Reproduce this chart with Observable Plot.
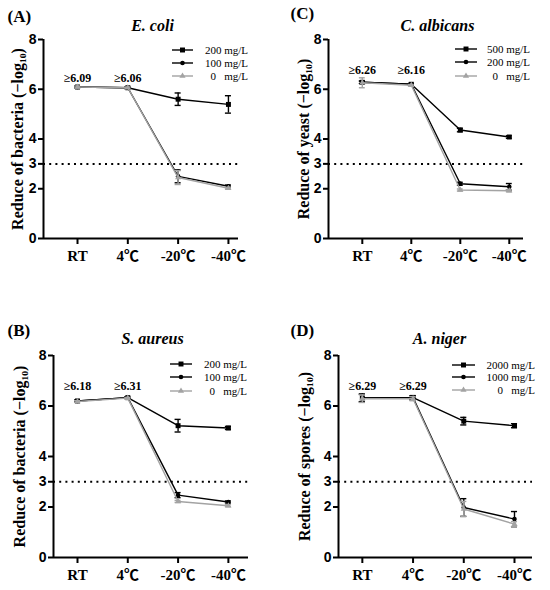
<!DOCTYPE html>
<html><head><meta charset="utf-8">
<script src="https://cdn.jsdelivr.net/npm/d3@7"></script>
<script src="https://cdn.jsdelivr.net/npm/@observablehq/plot@0.6"></script>
<style>
body{margin:0;background:#fff}
#wrap{position:relative;width:550px;height:590px;background:#fff;overflow:hidden}
.panel{position:absolute}
</style></head><body><div id="wrap"></div>
<script>
// ---------- data ----------
const temps = ["RT", "4℃", "-20℃", "-40℃"];
const yTicks = [0, 2, 3, 4, 6, 8];
const threshold = 3;

// (A) E. coli
const ecoliDoses = ["200 mg/L", "100 mg/L", "0   mg/L"];
const ecoli200 = [6.09, 6.06, 5.60, 5.39];
const ecoli200Err = [0.04, 0.03, 0.25, 0.35];
const ecoli100 = [6.09, 6.06, 2.50, 2.10];
const ecoli100Err = [0.04, 0.03, 0.26, 0.05];
const ecoli0 = [6.09, 6.06, 2.45, 2.02];
const ecoli0Err = [0.04, 0.03, 0.28, 0.04];
const ecoliNotes = ["≥6.09", "≥6.06"];

// (C) C. albicans
const albDoses = ["500 mg/L", "200 mg/L", "0   mg/L"];
const alb500 = [6.28, 6.20, 4.36, 4.08];
const alb500Err = [0.05, 0.03, 0.07, 0.05];
const alb200 = [6.28, 6.20, 2.20, 2.08];
const alb200Err = [0.05, 0.03, 0.06, 0.13];
const alb0 = [6.26, 6.16, 1.95, 1.92];
const alb0Err = [0.20, 0.03, 0.04, 0.04];
const albNotes = ["≥6.26", "≥6.16"];

// (B) S. aureus
const aurDoses = ["200 mg/L", "100 mg/L", "0   mg/L"];
const aur200 = [6.20, 6.33, 5.22, 5.13];
const aur200Err = [0.03, 0.03, 0.25, 0.06];
const aur100 = [6.20, 6.33, 2.47, 2.20];
const aur100Err = [0.03, 0.03, 0.10, 0.04];
const aur0 = [6.18, 6.31, 2.22, 2.05];
const aur0Err = [0.03, 0.03, 0.04, 0.04];
const aurNotes = ["≥6.18", "≥6.31"];

// (D) A. niger
const nigDoses = ["2000 mg/L", "1000 mg/L", "0   mg/L"];
const nig2000 = [6.32, 6.33, 5.40, 5.22];
const nig2000Err = [0.15, 0.08, 0.15, 0.08];
const nig1000 = [6.32, 6.33, 1.98, 1.52];
const nig1000Err = [0.15, 0.08, 0.35, 0.30];
const nig0 = [6.29, 6.29, 1.92, 1.32];
const nig0Err = [0.15, 0.08, 0.30, 0.10];
const nigNotes = ["≥6.29", "≥6.29"];

// ---------- styling ----------
const GRAY = "#a3a3a3";
const SERIF = "'Liberation Serif','Times New Roman','Noto Sans CJK SC',serif";
const SANS = "'Liberation Sans',Arial,sans-serif";
const symbols = ["square", "circle", "triangle"];
const colors = ["#000", "#000", GRAY];
const radii = [2.8, 2.3, 2.3];
const d3sym = {square: d3.symbolSquare, circle: d3.symbolCircle, triangle: d3.symbolTriangle};

const panels = [
  {left: 0, top: 0, letter: "(A)", title: "E. coli", ylabel: "Reduce of bacteria (−log₁₀)",
   doses: ecoliDoses, values: [ecoli200, ecoli100, ecoli0], errs: [ecoli200Err, ecoli100Err, ecoli0Err],
   notes: ecoliNotes, noteY: 6.45,
   m: {top: 39, right: 37, bottom: 57, left: 43}, xd: [-0.676, 3.2],
   letterPos: [7, 16], titlePos: [152, 25], ylabelX: 17,
   leg: {x0: 172, x1: 193, end: 248, rows: [50, 63, 76]}},
  {left: 275, top: 0, letter: "(C)", title: "C. albicans", ylabel: "Reduce of yeast (−log₁₀)",
   doses: albDoses, values: [alb500, alb200, alb0], errs: [alb500Err, alb200Err, alb0Err],
   notes: albNotes, noteY: 6.75,
   m: {top: 39, right: 27, bottom: 57, left: 53}, xd: [-0.69, 3.29],
   letterPos: [15, 13], titlePos: [162, 25], ylabelX: 28,
   leg: {x0: 180, x1: 202, end: 255, rows: [49, 62, 76]}},
  {left: 0, top: 295, letter: "(B)", title: "S. aureus", ylabel: "Reduce of bacteria (−log₁₀)",
   doses: aurDoses, values: [aur200, aur100, aur0], errs: [aur200Err, aur100Err, aur0Err],
   notes: aurNotes, noteY: 6.8,
   m: {top: 60, right: 27, bottom: 33, left: 53}, xd: [-0.477, 3.4],
   letterPos: [7, 35], titlePos: [152, 43], ylabelX: 19,
   leg: {x0: 170, x1: 192, end: 247, rows: [69, 82, 96]}},
  {left: 275, top: 295, letter: "(D)", title: "A. niger", ylabel: "Reduce of spores (−log₁₀)",
   doses: nigDoses, values: [nig2000, nig1000, nig0], errs: [nig2000Err, nig1000Err, nig0Err],
   notes: nigNotes, noteY: 6.8,
   m: {top: 60, right: 18, bottom: 33, left: 63}, xd: [-0.47, 3.355],
   letterPos: [15, 35], titlePos: [164, 43], ylabelX: 29,
   leg: {x0: 177, x1: 200, end: 260, rows: [70, 82, 95]}}
];

const W = 275, H = 295, CAP = 0.06;

function makePanel(p) {
  const marks = [
    Plot.ruleY([threshold], {stroke: "#000", strokeWidth: 2, strokeDasharray: "2,4.2"}),
    Plot.ruleX([p.xd[0]], {y1: 0, y2: 8, stroke: "#000", strokeWidth: 2}),
    Plot.ruleY([0], {stroke: "#000", strokeWidth: 2}),
    Plot.axisY({ticks: yTicks, tickSize: 5, strokeWidth: 2, tickPadding: 2, label: null,
      fontFamily: SANS, fontWeight: "bold", fontSize: 14, fill: "#000"}),
    Plot.axisX({ticks: [0, 1, 2, 3], tickFormat: i => temps[i], tickSize: 6, strokeWidth: 2,
      tickPadding: 6, label: null, fontFamily: SERIF, fontWeight: "bold", fontSize: 15, fill: "#000"})
  ];
  p.values.forEach((vals, si) => {
    const d = vals.map((v, i) => ({i, v, e: p.errs[si][i]}));
    const col = colors[si];
    marks.push(
      Plot.line(d, {x: "i", y: "v", stroke: col, strokeWidth: 1.4}),
      Plot.ruleX(d, {x: "i", y1: r => r.v - r.e, y2: r => r.v + r.e, stroke: col, strokeWidth: 1.4}),
      Plot.ruleY(d, {y: r => r.v + r.e, x1: r => r.i - CAP, x2: r => r.i + CAP, stroke: col, strokeWidth: 1.4}),
      Plot.ruleY(d, {y: r => r.v - r.e, x1: r => r.i - CAP, x2: r => r.i + CAP, stroke: col, strokeWidth: 1.4}),
      Plot.dot(d, {x: "i", y: "v", symbol: symbols[si], r: radii[si], fill: col, stroke: "none"})
    );
  });
  const fcx = (p.m.left + (W - p.m.right)) / 2;
  marks.push(
    Plot.text(p.notes, {x: (d, i) => i, y: () => p.noteY, text: d => d,
      fontFamily: SERIF, fontWeight: "bold", fontSize: 12, fill: "#000"}),
    Plot.text([p.ylabel], {frameAnchor: "left", textAnchor: "middle", lineAnchor: "middle", rotate: -90,
      dx: p.ylabelX - p.m.left,
      fontFamily: SERIF, fontWeight: "bold", fontSize: 16, fill: "#000"}),
    Plot.text([p.title], {frameAnchor: "top", textAnchor: "middle", lineAnchor: "middle",
      dx: p.titlePos[0] - fcx, dy: p.titlePos[1] - p.m.top,
      fontFamily: SERIF, fontWeight: "bold", fontStyle: "italic", fontSize: 16, fill: "#000"}),
    Plot.text([p.letter], {frameAnchor: "top-left", textAnchor: "start", lineAnchor: "middle",
      dx: p.letterPos[0] - p.m.left,
      dy: p.letterPos[1] - p.m.top, fontFamily: SERIF, fontWeight: "bold", fontSize: 17, fill: "#000"})
  );
  const svg = Plot.plot({
    width: W, height: H,
    marginTop: p.m.top, marginRight: p.m.right, marginBottom: p.m.bottom, marginLeft: p.m.left,
    x: {type: "linear", domain: p.xd},
    y: {domain: [0, 8]},
    style: {background: "white", color: "black", overflow: "visible"},
    marks
  });
  // legend
  const g = d3.select(svg).append("g").attr("class", "legend");
  p.doses.forEach((lab, si) => {
    const y = p.leg.rows[si];
    const col = colors[si];
    g.append("line").attr("x1", p.leg.x0).attr("x2", p.leg.x1).attr("y1", y).attr("y2", y)
      .attr("stroke", col).attr("stroke-width", 1.4);
    g.append("path").attr("d", d3.symbol(d3sym[symbols[si]], Math.PI * radii[si] * radii[si])())
      .attr("transform", `translate(${(p.leg.x0 + p.leg.x1) / 2},${y})`).attr("fill", col);
    g.append("text").attr("x", p.leg.end).attr("y", y).attr("dy", "0.35em")
      .attr("text-anchor", "end").attr("font-family", SERIF).attr("font-size", 11)
      .attr("fill", "#000").style("white-space", "pre").text(lab);
  });
  const div = document.createElement("div");
  div.className = "panel";
  div.style.left = p.left + "px";
  div.style.top = p.top + "px";
  div.appendChild(svg);
  document.getElementById("wrap").appendChild(div);
}
panels.forEach(makePanel);
</script></body></html>
